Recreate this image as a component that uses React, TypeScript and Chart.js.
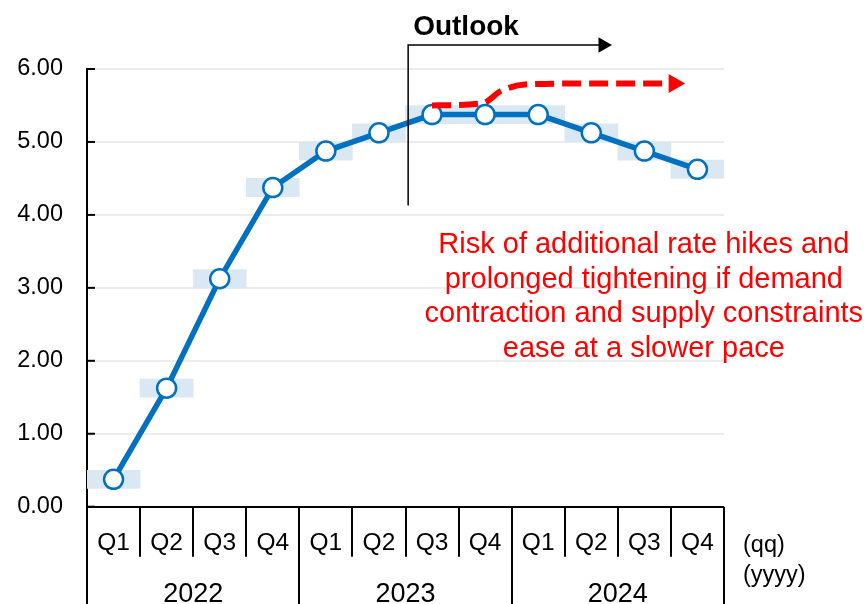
import React, { useEffect, useRef } from "react";
import { Chart, registerables } from "chart.js";

Chart.register(...registerables);

// ---- data ----
const quarterLabels = ["Q1", "Q2", "Q3", "Q4", "Q1", "Q2", "Q3", "Q4", "Q1", "Q2", "Q3", "Q4"];
const yearLabels = ["2022", "2023", "2024"];
const policyRate = [0.375, 1.625, 3.125, 4.375, 4.875, 5.125, 5.375, 5.375, 5.375, 5.125, 4.875, 4.625];
const rangeLow = [0.25, 1.5, 3.0, 4.25, 4.75, 5.0, 5.25, 5.25, 5.25, 5.0, 4.75, 4.5];
const rangeHigh = [0.5, 1.75, 3.25, 4.5, 5.0, 5.25, 5.5, 5.5, 5.5, 5.25, 5.0, 4.75];
const riskPathX = [6.0, 6.95, 7.3, 7.8, 8.6, 10.56];
const riskPathY = [5.5, 5.53, 5.7, 5.79, 5.8, 5.8];
const outlookX = [5.55, 5.55, 9.22];
const outlookY = [4.13, 6.33, 6.33];
const riskText = [
  "Risk of additional rate hikes and",
  "prolonged tightening if demand",
  "contraction and supply constraints",
  "ease at a slower pace",
];
const outlookLabel = "Outlook";
const quarterUnit = "(qq)";
const yearUnit = "(yyyy)";

const FONT = '"Liberation Sans", Arial, sans-serif';

const overlayPlugin = {
  id: "overlay",
  afterDraw(chart: any) {
    const ctx = chart.ctx;
    const xs = chart.scales.x;
    const ys = chart.scales.y;
    const area = chart.chartArea;
    const y0 = ys.getPixelForValue(0);
    const bottom = chart.height;
    ctx.save();
    // inner tick marks on y axis
    ctx.strokeStyle = "#000";
    ctx.lineWidth = 2;
    ys.ticks.forEach((t: any) => {
      const py = ys.getPixelForValue(t.value);
      ctx.beginPath();
      ctx.moveTo(area.left, py);
      ctx.lineTo(area.left + 8, py);
      ctx.stroke();
    });
    // category dividers
    for (let i = 0; i <= quarterLabels.length; i++) {
      const px = Math.round(xs.getPixelForValue(i - 0.5));
      const isYear = i % 4 === 0;
      ctx.beginPath();
      ctx.moveTo(px, y0);
      ctx.lineTo(px, isYear ? bottom : y0 + 50);
      ctx.stroke();
    }
    // outlook arrowhead (end of the outlook dataset)
    const ox = xs.getPixelForValue(outlookX[outlookX.length - 1]);
    const oy = ys.getPixelForValue(outlookY[outlookY.length - 1]);
    ctx.fillStyle = "#000";
    ctx.beginPath();
    ctx.moveTo(ox + 9, oy);
    ctx.lineTo(ox - 4.5, oy - 7.8);
    ctx.lineTo(ox - 4.5, oy + 7.8);
    ctx.closePath();
    ctx.fill();
    // quarter labels
    ctx.fillStyle = "#000";
    ctx.textAlign = "center";
    ctx.textBaseline = "alphabetic";
    ctx.font = `24.5px ${FONT}`;
    quarterLabels.forEach((q, i) => {
      ctx.fillText(q, xs.getPixelForValue(i), y0 + 43.5);
    });
    ctx.font = `27px ${FONT}`;
    yearLabels.forEach((yl, g) => {
      ctx.fillText(yl, xs.getPixelForValue(g * 4 + 1.5), y0 + 95);
    });
    ctx.textAlign = "left";
    ctx.font = `23.5px ${FONT}`;
    ctx.fillText(quarterUnit, area.right + 19, y0 + 45.5);
    ctx.fillText(yearUnit, area.right + 19, y0 + 75.5);
    // Outlook label
    ctx.font = `bold 28px ${FONT}`;
    ctx.fillText(outlookLabel, xs.getPixelForValue(outlookX[0]) + 5, ys.getPixelForValue(outlookY[1]) - 10);
    // risk text
    ctx.fillStyle = "#FF0000";
    ctx.textAlign = "center";
    ctx.font = `29px ${FONT}`;
    const cx = xs.getPixelForValue(9.99);
    const by = ys.getPixelForValue(3.48);
    riskText.forEach((line, i) => {
      ctx.fillText(line, cx, by + i * 34.7);
    });
    ctx.restore();
  },
};

export default function App() {
  const ref = useRef<HTMLCanvasElement | null>(null);
  useEffect(() => {
    document.body.style.margin = "0";
    if (!ref.current) return;
    const bandData = rangeLow.map((lo, i) => ({ x: i, y: [lo, rangeHigh[i]] }));
    const lineData = policyRate.map((v, i) => ({ x: i, y: v }));
    const riskData = riskPathX.map((x, i) => ({ x, y: riskPathY[i] }));
    const outlookData = outlookX.map((x, i) => ({ x, y: outlookY[i] }));
    const chart = new Chart(ref.current, {
      type: "bar",
      data: {
        datasets: [
          {
            type: "line",
            data: riskData as any,
            borderColor: "#FF0000",
            borderWidth: 6,
            borderDash: [19, 8],
            cubicInterpolationMode: "monotone",
            pointRadius: riskData.map((_, i) => (i === riskData.length - 1 ? 11 : 0)),
            pointStyle: "triangle",
            pointRotation: 90,
            pointBackgroundColor: "#FF0000",
            pointBorderWidth: 0,
            fill: false,
            clip: false as any,
            order: 0,
          },
          {
            type: "line",
            data: outlookData as any,
            borderColor: "#000",
            borderWidth: 1.5,
            pointRadius: 0,
            fill: false,
            clip: false as any,
            order: 1,
          },
          {
            type: "line",
            data: lineData as any,
            borderColor: "#0070C0",
            borderWidth: 5.5,
            pointRadius: 9.5,
            pointBorderWidth: 2.5,
            pointBackgroundColor: "#FFFFFF",
            pointBorderColor: "#0070C0",
            fill: false,
            order: 2,
          },
          {
            type: "bar",
            data: bandData as any,
            backgroundColor: "#DAE8F3",
            borderWidth: 0,
            barPercentage: 1,
            categoryPercentage: 1,
            order: 3,
          },
        ],
      },
      options: {
        responsive: false,
        animation: false,
        events: [],
        layout: { padding: { left: 0, top: 69, right: 144, bottom: 97.3 } },
        plugins: { legend: { display: false }, tooltip: { enabled: false } },
        scales: {
          x: {
            type: "linear",
            min: -0.5,
            max: 11.5,
            offset: false,
            grid: { offset: false },
            display: false,
          },
          y: {
            min: 0,
            max: 6,
            afterFit: (s: any) => {
              s.width = 87;
            },
            ticks: {
              stepSize: 1,
              padding: 24,
              color: "#000",
              font: { family: FONT, size: 23.5 },
              callback: (v: any) => Number(v).toFixed(2),
            },
            grid: {
              drawTicks: false,
              color: (c: any) => (c.tick && c.tick.value === 0 ? "#000" : "#ECECEC"),
              lineWidth: 2,
            },
            border: { color: "#000", width: 2 },
          },
        },
      },
      plugins: [overlayPlugin],
    });
    return () => chart.destroy();
  }, []);
  return (
    <div style={{ position: "absolute", left: 0, top: 0, width: 868, height: 604, background: "#fff" }}>
      <canvas ref={ref} width={868} height={604} style={{ width: 868, height: 604 }} />
    </div>
  );
}
